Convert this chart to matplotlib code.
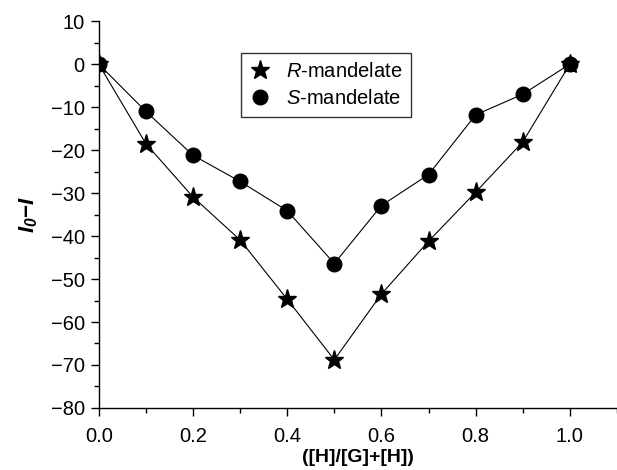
import matplotlib
matplotlib.use('Agg')
import matplotlib.pyplot as plt
from matplotlib.ticker import MultipleLocator

plt.rcParams['font.family'] = ['Liberation Sans', 'DejaVu Sans']
plt.rcParams['mathtext.fontset'] = 'custom'
plt.rcParams['mathtext.rm'] = 'Liberation Sans'
plt.rcParams['mathtext.it'] = 'Liberation Sans:italic'
plt.rcParams['mathtext.bf'] = 'Liberation Sans:bold'
plt.rcParams['mathtext.bfit'] = 'Liberation Sans:bold:italic'

# data
ratio = [0.0, 0.1, 0.2, 0.3, 0.4, 0.5, 0.6, 0.7, 0.8, 0.9, 1.0]
r_mandelate = [0, -18.5, -30.9, -40.9, -54.7, -68.8, -53.5, -41.2, -29.8, -18.1, 0]
s_mandelate = [0, -11.0, -21.2, -27.3, -34.1, -46.4, -32.9, -25.7, -11.8, -7.0, 0]

fig = plt.figure(figsize=(6.17, 4.70), dpi=100)
ax = fig.add_axes([0.160, 0.132, 0.840, 0.823])

ax.plot(ratio, r_mandelate, color='black', lw=0.8, marker='*', ms=14,
        label=r'$\mathit{R}$-mandelate')
ax.plot(ratio, s_mandelate, color='black', lw=0.8, marker='o', ms=10.5,
        label=r'$\mathit{S}$-mandelate')

ax.set_xlim(0, 1.1)
ax.set_ylim(-80, 10)
ax.xaxis.set_major_locator(MultipleLocator(0.2))
ax.xaxis.set_minor_locator(MultipleLocator(0.1))
ax.yaxis.set_major_locator(MultipleLocator(10))
ax.yaxis.set_minor_locator(MultipleLocator(5))
ax.xaxis.set_major_formatter(plt.FormatStrFormatter('%.1f'))

for s in ['top', 'right']:
    ax.spines[s].set_visible(False)
for s in ['left', 'bottom']:
    ax.spines[s].set_linewidth(1.0)
ax.tick_params(which='major', direction='out', length=6, width=1.0, labelsize=14.5)
ax.tick_params(which='minor', direction='out', length=3.5, width=1.0)
ax.tick_params(axis='x', which='major', pad=8)
ax.tick_params(axis='y', which='major', pad=4)

ax.set_xlabel('([H]/[G]+[H])', fontsize=14, fontweight='bold', labelpad=2)
ax.set_ylabel(r'$\mathbfit{I}_{\mathbfit{0}}\mathbf{-}\mathbfit{I}$', fontsize=16, labelpad=8)

leg = ax.legend(loc='upper left', bbox_to_anchor=(0.274, 0.917), borderaxespad=0,
                fontsize=14.5, frameon=True, fancybox=False, edgecolor='black',
                handlelength=1.0, handletextpad=0.8, borderpad=0.45, labelspacing=0.4)
leg.get_frame().set_linewidth(1.0)
for h in leg.legend_handles:
    h.set_linestyle('none')

fig.savefig('out.png', dpi=100)
